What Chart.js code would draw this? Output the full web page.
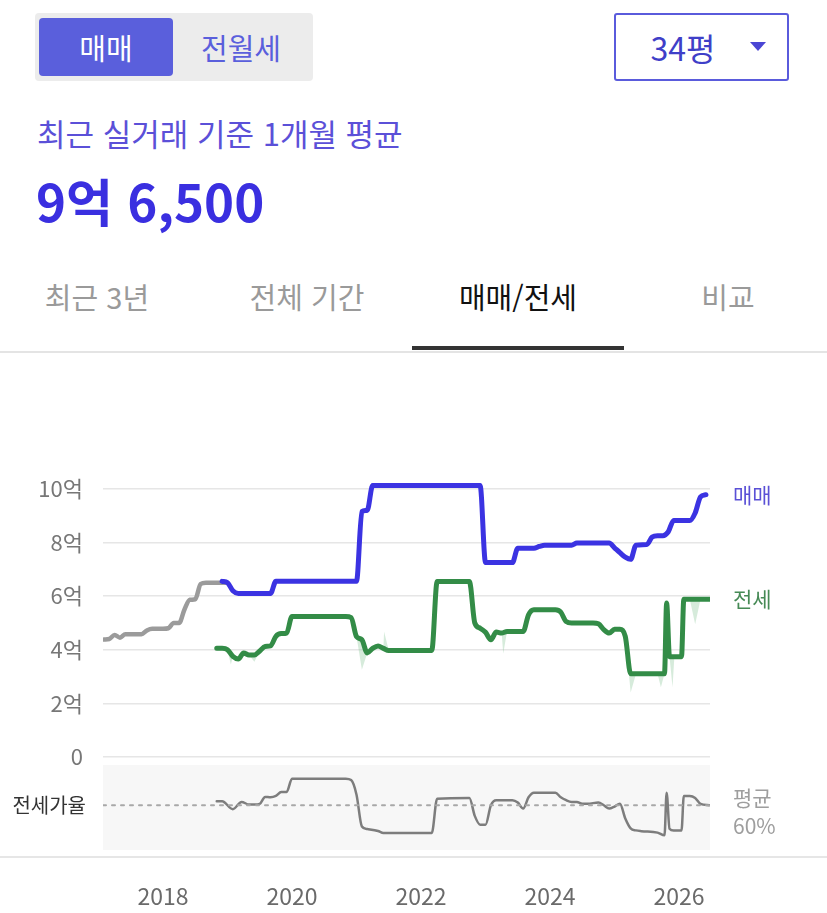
<!DOCTYPE html>
<html lang="ko">
<head>
<meta charset="utf-8">
<title>매매/전세</title>
<script src="https://cdn.jsdelivr.net/npm/chart.js@4.4.1/dist/chart.umd.min.js"></script>
<style>
  body { margin: 0; width: 827px; height: 913px; position: relative; background: #fff; overflow: hidden;
         font-family: "Noto Sans CJK KR", "Noto Sans", sans-serif; }
  .abs { position: absolute; white-space: nowrap; }
  .toggle { left: 35px; top: 13px; width: 278px; height: 68px; background: #ececec; border-radius: 4px; }
  .toggle .on { position: absolute; left: 4px; top: 5px; width: 134px; height: 58px; background: #5a5fdc; border-radius: 4px;
                color: #fff; font-size: 29px; line-height: 58px; text-align: center; }
  .toggle .off { position: absolute; left: 136px; top: 5px; width: 140px; height: 58px; color: #5a5fdc;
                 font-size: 29px; line-height: 58px; text-align: center; }
  .select { left: 614px; top: 13px; width: 175px; height: 68px; box-sizing: border-box; border: 2px solid #5a5bdc; border-radius: 3px; }
  .select .txt { position: absolute; left: 14px; width: 106px; top: 0; line-height: 64px; font-size: 32px; color: #3f3fc8; text-align: center; }
  .select .arrow { position: absolute; left: 134px; top: 27px; width: 0; height: 0;
                   border-left: 8px solid transparent; border-right: 8px solid transparent; border-top: 9px solid #4a46d4; }
  .sub { left: 37px; top: 113px; font-size: 31px; line-height: 40px; color: #5b50d8; }
  .big { left: 36px; top: 169px; font-size: 51px; line-height: 62px; font-weight: 700; color: #3a2fe0; }
  .tab { top: 276px; width: 210px; text-align: center; font-size: 29px; line-height: 40px; color: #9a9a9a; }
  .tab.active { color: #111; }
  .underline { left: 412px; top: 346px; width: 212px; height: 4px; background: #333; }
  .sep { left: 0; top: 351px; width: 827px; height: 2px; background: #e4e4e4; }
  #chart { position: absolute; left: 0; top: 353px; }
</style>
</head>
<body>
<div class="abs toggle"><div class="on">매매</div><div class="off">전월세</div></div>
<div class="abs select"><span class="txt">34평</span><span class="arrow"></span></div>
<div class="abs sub">최근 실거래 기준 1개월 평균</div>
<div class="abs big">9억 6,500</div>
<div class="abs tab" style="left:-8px">최근 3년</div>
<div class="abs tab" style="left:202px">전체 기간</div>
<div class="abs tab active" style="left:413px">매매/전세</div>
<div class="abs tab" style="left:623px">비교</div>
<div class="abs underline"></div>
<div class="abs sep"></div>
<canvas id="chart" width="827" height="560"></canvas>

<script>
// 매매 (before the blue series starts, drawn in gray)
const saleEarlyDates = ['2017-02', '2017-03', '2017-04', '2017-05', '2017-06', '2017-09', '2017-10', '2017-11', '2018-01',
    '2018-02', '2018-03', '2018-04', '2018-05', '2018-06', '2018-07', '2018-08', '2018-09', '2019-01'];
const saleEarlyValues = [4.38, 4.4, 4.55, 4.45, 4.58, 4.58, 4.72, 4.78, 4.78,
    4.8, 5.0, 5.0, 5.5, 5.86, 5.88, 6.45, 6.5, 6.5];

// 매매 (억)
const saleDates = ['2018-12', '2019-01', '2019-02', '2019-03', '2019-09', '2019-10', '2021-01', '2021-02', '2021-03', '2021-04',
    '2022-12', '2023-01', '2023-06', '2023-07', '2023-10', '2023-11', '2023-12', '2024-05', '2024-06', '2024-12',
    '2025-01', '2025-02', '2025-03', '2025-04', '2025-05', '2025-07', '2025-08', '2025-09', '2025-10', '2025-11',
    '2025-12', '2026-03', '2026-04', '2026-05', '2026-06'];
const saleValues = [6.55, 6.5, 6.2, 6.1, 6.1, 6.55, 6.55, 9.15, 9.2, 10.12,
    10.12, 7.25, 7.25, 7.78, 7.78, 7.85, 7.9, 7.9, 7.98, 7.98,
    7.8, 7.62, 7.45, 7.37, 7.9, 7.92, 8.2, 8.25, 8.25, 8.4,
    8.82, 8.82, 9.1, 9.7, 9.78];

// 전세 (억)
const rentDates = ['2018-11', '2018-12', '2019-01', '2019-02', '2019-03', '2019-04', '2019-05', '2019-06', '2019-07', '2019-08',
    '2019-09', '2019-10', '2019-11', '2019-12', '2020-01', '2020-11', '2020-12', '2021-01', '2021-02', '2021-03',
    '2021-04', '2021-05', '2021-06', '2021-07', '2022-03', '2022-04', '2022-10', '2022-11', '2022-12', '2023-01',
    '2023-02', '2023-03', '2023-04', '2023-05', '2023-08', '2023-09', '2023-10', '2024-02', '2024-03', '2024-04',
    '2024-05', '2024-09', '2024-10', '2024-11', '2024-12', '2025-01', '2025-02', '2025-03', '2025-04', '2025-05',
    '2025-09', '2025-10-10', '2025-10-22', '2025-11-08', '2025-12-05', '2026-01-15', '2026-01-28', '2026-03', '2026-05', '2026-06-20'];
const rentValues = [4.05, 4.05, 4.0, 3.75, 3.65, 3.88, 3.8, 3.8, 3.95, 4.12,
    4.14, 4.5, 4.6, 4.62, 5.24, 5.24, 5.2, 4.49, 4.37, 3.88,
    4.05, 4.14, 4.05, 3.97, 3.97, 6.54, 6.54, 5.0, 4.8, 4.65,
    4.37, 4.66, 4.62, 4.68, 4.68, 5.3, 5.49, 5.49, 5.4, 5.05,
    5.0, 5.0, 4.97, 4.75, 4.62, 4.76, 4.76, 4.5, 3.1, 3.1,
    3.1, 3.1, 5.74, 3.74, 3.74, 3.74, 5.88, 5.88, 5.88, 5.88];

// 전세 거래 범위 (light green spikes around the line)
const rentSpikeDates = ['2019-01-20', '2019-06', '2021-02', '2021-06-05', '2023-04-10', '2025-04', '2025-09-20', '2025-11-25', '2026-04'];
const rentSpikeValues = [3.45, 3.55, 3.25, 4.68, 3.85, 2.4, 2.6, 2.6, 4.95];

// 전세가율 (%)
const ratioDates = ['2018-11', '2018-12', '2019-02', '2019-03-20', '2019-05', '2019-06', '2019-07', '2019-08', '2019-09', '2019-10',
    '2019-11', '2019-12', '2020-01', '2020-11', '2020-12', '2021-01', '2021-02', '2021-03', '2021-05', '2021-06',
    '2022-03', '2022-04', '2022-10', '2022-11', '2022-12', '2023-01', '2023-02', '2023-03', '2023-06', '2023-07',
    '2023-08', '2023-09', '2023-10', '2024-02', '2024-03', '2024-04', '2024-05', '2024-06', '2024-07', '2024-08',
    '2024-10', '2024-11', '2024-12', '2025-01', '2025-02', '2025-03', '2025-04', '2025-05', '2025-06', '2025-09',
    '2025-10-10', '2025-10-22', '2025-11-08', '2025-12', '2026-01-15', '2026-01-28', '2026-03', '2026-04', '2026-05', '2026-06-20'];
const ratioValues = [63, 63, 57, 62.5, 60.5, 60.5, 61, 66.3, 66, 67,
    70, 70, 80, 80, 79, 68, 44, 42, 40.6, 39.1,
    39.1, 65, 65.5, 52, 45.3, 45.3, 60, 63.8, 63.8, 62,
    57.5, 66, 69.5, 69.5, 66, 63.8, 62.5, 62.5, 61.2, 61.2,
    62, 60, 57.5, 59, 61.2, 50, 42.5, 41, 40.4, 39.3,
    37.3, 69.5, 42.3, 41, 41, 67, 67, 65.5, 61, 60];
const ratioAverage = 60;

const yearTicks = [2018, 2020, 2022, 2024, 2026];
const priceTicks = [0, 2, 4, 6, 8, 10];

function toYear(s) {
    const p = s.split('-').map(Number);
    return p[0] + (p[1] - 1) / 12 + (p[2] ? (p[2] - 1) / 365 : 0);
}
function toPoints(dates, values) {
    return dates.map((d, i) => ({ x: toYear(d), y: values[i] }));
}

// band = rent line with the spike points put in
const bandMap = {};
rentDates.forEach((d, i) => bandMap[d] = rentValues[i]);
rentSpikeDates.forEach((d, i) => bandMap[d] = rentSpikeValues[i]);
const bandPoints = Object.keys(bandMap).map(d => ({ x: toYear(d), y: bandMap[d] })).sort((a, b) => a.x - b.x);

const xMin = 2017.07, xMax = 2026.48;
const labelFont = '"Noto Sans CJK KR"';

const sideLabels = {
    id: 'sideLabels',
    beforeDatasetsDraw(chart) {
        const { ctx, chartArea } = chart;
        const r = chart.scales.ratio;
        ctx.save();
        ctx.fillStyle = '#f7f7f7';
        ctx.fillRect(chartArea.left, r.top, chartArea.right - chartArea.left, r.bottom - r.top);
        ctx.restore();
    },
    afterDraw(chart) {
        const { ctx, chartArea } = chart;
        const y = chart.scales.y, r = chart.scales.ratio;
        const x = chartArea.right + 23;
        ctx.save();
        ctx.font = '21px ' + labelFont;
        ctx.textBaseline = 'middle';
        ctx.textAlign = 'left';
        ctx.fillStyle = '#5a50d6';
        ctx.fillText('매매', x, y.getPixelForValue(saleValues[saleValues.length - 1]));
        ctx.fillStyle = '#468a55';
        ctx.fillText('전세', x, y.getPixelForValue(rentValues[rentValues.length - 1]));
        ctx.fillStyle = '#9e9e9e';
        const ya = r.getPixelForValue(ratioAverage);
        ctx.fillText('평균', x, ya - 7);
        ctx.fillText(ratioAverage + '%', x, ya + 21);
        // bottom rule above the year labels
        ctx.fillStyle = '#e6e6e6';
        ctx.fillRect(0, chartArea.bottom + 6, chart.width, 2);
        ctx.restore();
    }
};

new Chart(document.getElementById('chart'), {
    type: 'line',
    data: {
        datasets: [
            { data: toPoints(saleDates, saleValues), yAxisID: 'y', borderColor: '#3b33e2', borderWidth: 5, cubicInterpolationMode: 'monotone' },
            { data: toPoints(saleEarlyDates, saleEarlyValues), yAxisID: 'y', borderColor: '#9b9b9b', borderWidth: 4.5, cubicInterpolationMode: 'monotone' },
            { data: toPoints(rentDates, rentValues), yAxisID: 'y', borderColor: '#338c47', borderWidth: 5, cubicInterpolationMode: 'monotone' },
            { data: bandPoints, yAxisID: 'y', borderWidth: 0, borderColor: 'rgba(0,0,0,0)', backgroundColor: 'rgba(120,190,135,0.3)', fill: { target: 2 }, tension: 0 },
            { data: [{ x: xMin, y: ratioAverage }, { x: xMax, y: ratioAverage }], yAxisID: 'ratio', borderColor: '#a8a8a8', borderWidth: 2, borderDash: [3, 6] },
            { data: toPoints(ratioDates, ratioValues), yAxisID: 'ratio', borderColor: '#7d7d7d', borderWidth: 2.5, cubicInterpolationMode: 'monotone' }
        ]
    },
    options: {
        responsive: false,
        animation: false,
        events: [],
        elements: { point: { radius: 0 }, line: { borderCapStyle: 'round', borderJoinStyle: 'round' } },
        layout: { padding: { top: 109, right: 117, left: 0, bottom: 0 } },
        plugins: { legend: { display: false }, tooltip: { enabled: false } },
        scales: {
            x: {
                type: 'linear', min: xMin, max: xMax,
                grid: { display: false }, border: { display: false },
                afterBuildTicks: s => { s.ticks = yearTicks.map(v => ({ value: v })); },
                afterFit: s => { s.height = 63; },
                ticks: { padding: 24, color: '#6a6a6a', font: { size: 23, family: labelFont }, callback: v => String(v), maxRotation: 0 }
            },
            // listed before the price axis so that it sits at the bottom of the left stack
            ratio: {
                type: 'linear', position: 'left', stack: 'v', stackWeight: 1, min: 26.2, max: 90.4,
                grid: { display: false }, border: { display: false },
                afterBuildTicks: s => { s.ticks = [{ value: ratioAverage }]; },
                afterFit: s => { s.width = 103; },
                ticks: { padding: 9, color: '#333', font: { size: 20, family: labelFont }, callback: () => '전세가율' }
            },
            y: {
                type: 'linear', position: 'left', stack: 'v', stackWeight: 3.565, min: -0.3, max: 11,
                grid: { color: '#e6e6e6', lineWidth: 1.5, drawTicks: false }, border: { display: false },
                afterBuildTicks: s => { s.ticks = priceTicks.map(v => ({ value: v })); },
                afterFit: s => { s.width = 103; },
                ticks: { padding: 20, color: '#777', font: { size: 22, family: labelFont }, callback: v => v === 0 ? '0' : v + '억' }
            }
        }
    },
    plugins: [sideLabels]
});
</script>
</body>
</html>
